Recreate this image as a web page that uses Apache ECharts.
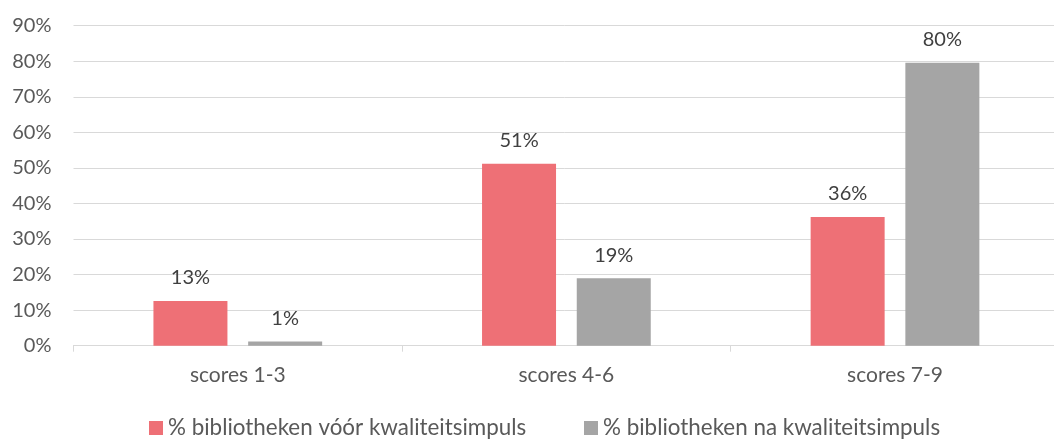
<!DOCTYPE html>
<html><head><meta charset="utf-8">
<script src="https://cdn.jsdelivr.net/npm/echarts@6/dist/echarts.min.js"></script>
<style>html,body{margin:0;padding:0;background:#fff}#c{width:1054px;height:441px}</style>
</head><body><div id="c"></div>
<script>
const categories = ['scores 1-3', 'scores 4-6', 'scores 7-9'];
const seriesNames = ['% bibliotheken vóór kwaliteitsimpuls', '% bibliotheken na kwaliteitsimpuls'];
const voor = [12.6, 51.2, 36.2];
const na = [1.2, 19.0, 79.6];
const yTicks = [0, 10, 20, 30, 40, 50, 60, 70, 80, 90];

const FONT = 'Lato';
const TXT = '#595959';
const chart = echarts.init(document.getElementById('c'));
const lbl = {
  show: true, position: 'top', distance: 13,
  color: '#404040', fontFamily: FONT, fontSize: 20,
  formatter: p => Math.round(p.value) + '%'
};
const legendBase = {
  top: 417, padding: 0, itemWidth: 14, itemHeight: 14, icon: 'rect',
  textStyle: { color: TXT, fontFamily: FONT, fontSize: 22.4, padding: [0, 0, 0, 0] }
};
chart.setOption({
  animation: false,
  grid: { left: 73.5, width: 985.8, top: 25.7, bottom: 95.3, containLabel: false, outerBoundsMode: 'none' },
  legend: [
    Object.assign({ left: 149, data: [seriesNames[0]] }, legendBase),
    Object.assign({ left: 584, data: [seriesNames[1]] }, legendBase)
  ],
  xAxis: {
    type: 'category', data: categories,
    axisLine: { lineStyle: { color: '#d9d9d9', width: 1 } },
    axisTick: { show: true, length: 6, lineStyle: { color: '#d9d9d9' } },
    axisLabel: { color: TXT, fontFamily: FONT, fontSize: 21, margin: 19 }
  },
  yAxis: {
    type: 'value', min: yTicks[0], max: yTicks[yTicks.length - 1], interval: 10,
    axisLine: { show: false }, axisTick: { show: false },
    splitLine: { lineStyle: { color: '#d9d9d9', width: 1 } },
    axisLabel: { color: TXT, fontFamily: FONT, fontSize: 20, margin: 22, formatter: '{value}%' }
  },
  series: [
    { name: seriesNames[0], type: 'bar', data: voor, barWidth: 74, barGap: '28%',
      itemStyle: { color: '#ee7076' }, label: lbl },
    { name: seriesNames[1], type: 'bar', data: na, barWidth: 74, barGap: '28%',
      itemStyle: { color: '#a5a5a5' }, label: lbl }
  ]
});
</script></body></html>
